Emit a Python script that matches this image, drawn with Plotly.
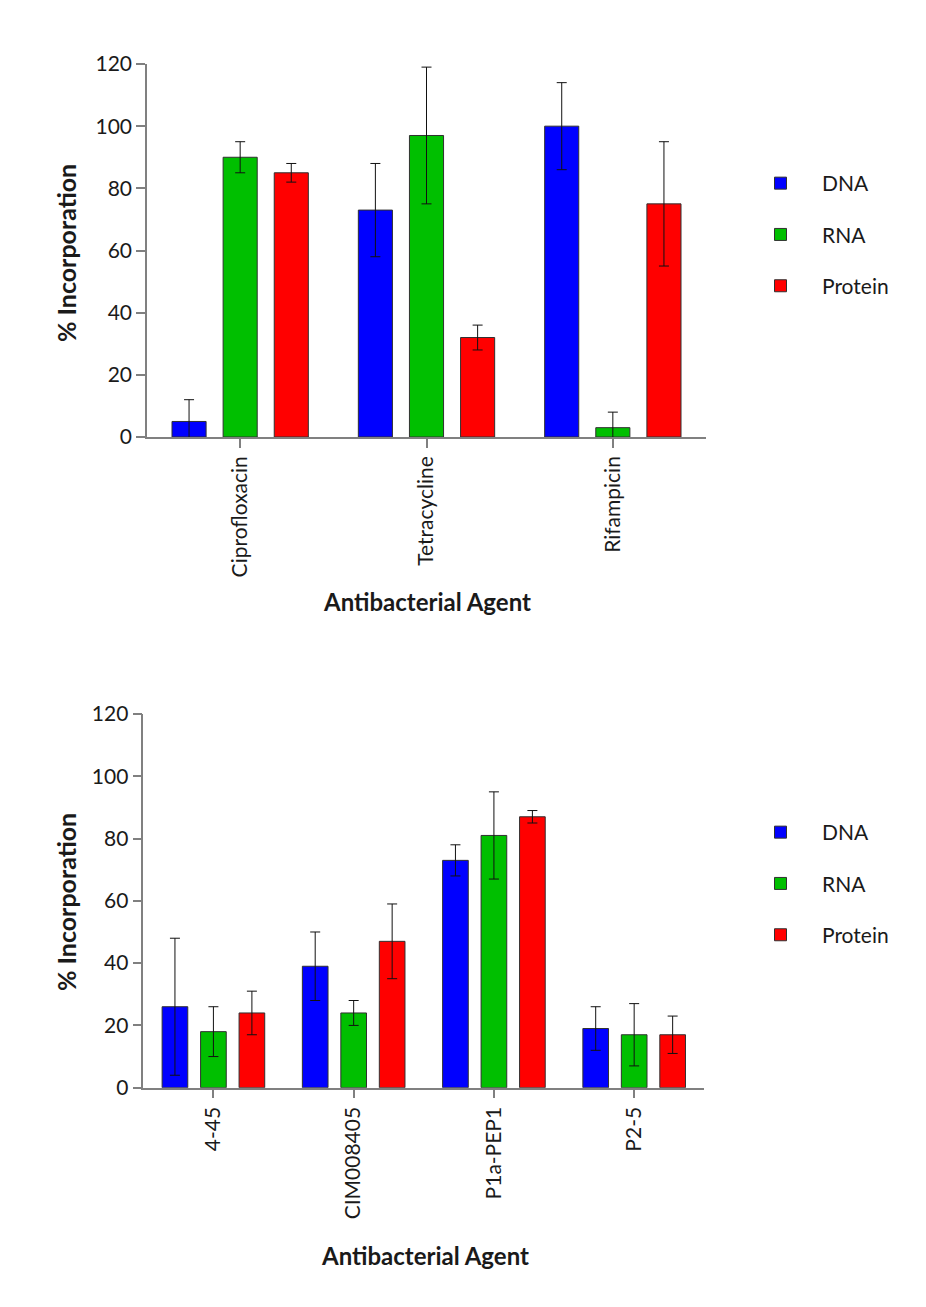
import plotly.graph_objects as go

# ---- data ----
series = ["DNA", "RNA", "Protein"]
colors = ["#0000FF", "#00BF00", "#FF0000"]

agents_top = ["Ciprofloxacin", "Tetracycline", "Rifampicin"]
top_vals = {
    "DNA": [5, 73, 100],
    "RNA": [90, 97, 3],
    "Protein": [85, 32, 75],
}
top_err = {
    "DNA": [7, 15, 14],
    "RNA": [5, 22, 5],
    "Protein": [3, 4, 20],
}

agents_bot = ["4-45", "CIM008405", "P1a-PEP1", "P2-5"]
bot_vals = {
    "DNA": [26, 39, 73, 19],
    "RNA": [18, 24, 81, 17],
    "Protein": [24, 47, 87, 17],
}
bot_err = {
    "DNA": [22, 11, 5, 7],
    "RNA": [8, 4, 14, 10],
    "Protein": [7, 12, 2, 6],
}

y_ticks = [0, 20, 40, 60, 80, 100, 120]

W, H = 926, 1307
FONT = "Lato"
TXT = "#1a1a1a"
AX = "#808080"

fig = go.Figure()

for i, s in enumerate(series):
    fig.add_trace(go.Bar(
        x=agents_top, y=top_vals[s], name=s,
        marker=dict(color=colors[i], line=dict(color="#303030", width=1)),
        error_y=dict(type="data", array=top_err[s], color="#111", thickness=1, width=5),
        xaxis="x", yaxis="y", legend="legend", legendgroup="t" + s,
    ))
for i, s in enumerate(series):
    fig.add_trace(go.Bar(
        x=agents_bot, y=bot_vals[s], name=s,
        marker=dict(color=colors[i], line=dict(color="#303030", width=1)),
        error_y=dict(type="data", array=bot_err[s], color="#111", thickness=1, width=5),
        xaxis="x2", yaxis="y2", legend="legend2", legendgroup="b" + s,
    ))

def px_x(p):
    return p / W

def px_y(p):
    return 1 - p / H

xcommon = dict(
    showline=True, linecolor=AX, linewidth=1.5,
    ticks="outside", ticklen=9, tickwidth=1.5, tickcolor=AX,
    tickangle=-90, tickfont=dict(family=FONT, size=21, color=TXT),
    showgrid=False, zeroline=False, type="category", automargin=False,
)
ycommon = dict(
    showline=True, linecolor=AX, linewidth=1.5,
    ticks="outside", ticklen=9, tickwidth=1.5, tickcolor=AX,
    tickfont=dict(family=FONT, size=21, color=TXT),
    tickvals=y_ticks, range=[0, 120],
    showgrid=False, zeroline=False, automargin=False,
)

legcommon = dict(
    font=dict(family=FONT, size=21, color=TXT),
    tracegroupgap=21, itemwidth=73, xanchor="left", yanchor="top",
    bgcolor="rgba(0,0,0,0)",
)

def ann(text, x, y, size, angle=0):
    return dict(text=text, x=px_x(x), y=px_y(y), xref="paper", yref="paper",
                xanchor="center", yanchor="middle", textangle=angle, showarrow=False,
                font=dict(family=FONT, size=size, color=TXT))

fig.update_layout(
    width=W, height=H,
    margin=dict(l=0, r=0, t=0, b=0, pad=0, autoexpand=False),
    paper_bgcolor="white", plot_bgcolor="white",
    barmode="group", bargap=0.177, bargroupgap=0.333,
    xaxis=dict(domain=[px_x(147), px_x(706)], anchor="y", range=[-0.5, 2.5], **xcommon),
    yaxis=dict(domain=[px_y(437), px_y(64)], anchor="x", **ycommon),
    xaxis2=dict(domain=[px_x(143.3), px_x(704.3)], anchor="y2", range=[-0.5, 3.5], **xcommon),
    yaxis2=dict(domain=[px_y(1087.7), px_y(714)], anchor="x2", **ycommon),
    legend=dict(x=px_x(739), y=px_y(163), **legcommon),
    legend2=dict(x=px_x(739), y=px_y(812), **legcommon),
    annotations=[
        ann("<b>% Incorporation</b>", 66, 253, 25, -90),
        ann("<b>% Incorporation</b>", 66, 902, 25, -90),
        ann("<b>Antibacterial Agent</b>", 427, 601, 24),
        ann("<b>Antibacterial Agent</b>", 425, 1255, 24),
    ],
)

fig.write_html("out.html")
